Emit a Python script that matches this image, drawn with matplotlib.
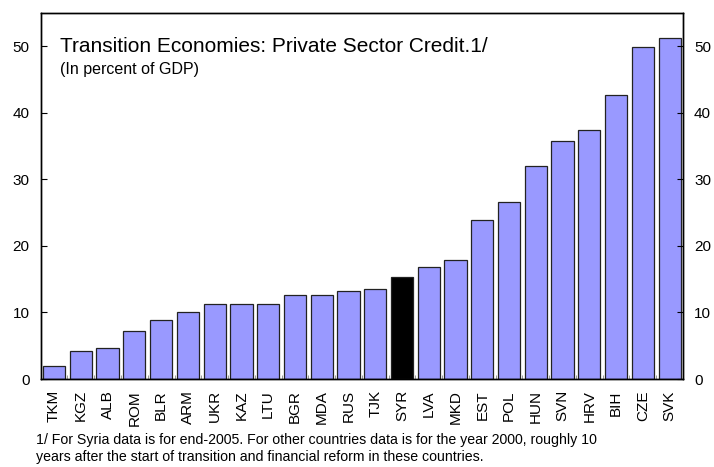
import matplotlib.pyplot as plt
import numpy as np

plt.rcParams['font.family'] = ['Liberation Sans', 'DejaVu Sans']

# Private sector credit, percent of GDP
countries = ['TKM', 'KGZ', 'ALB', 'ROM', 'BLR', 'ARM', 'UKR', 'KAZ', 'LTU', 'BGR',
             'MDA', 'RUS', 'TJK', 'SYR', 'LVA', 'MKD', 'EST', 'POL', 'HUN', 'SVN',
             'HRV', 'BIH', 'CZE', 'SVK']
credit = [2.0, 4.2, 4.6, 7.2, 8.9, 10.0, 11.2, 11.2, 11.3, 12.6,
          12.7, 13.3, 13.6, 15.3, 16.9, 17.9, 23.9, 26.6, 32.0, 35.8,
          37.5, 42.7, 49.9, 51.3]
highlight = 'SYR'

fig = plt.figure(figsize=(7.14, 4.67), dpi=100)
ax = fig.add_axes([0.057, 0.1884, 0.8996, 0.7836])

x = np.arange(len(countries))
colors = ['black' if c == highlight else '#9999ff' for c in countries]
ax.bar(x, credit, width=0.83, color=colors, edgecolor='#222222', linewidth=0.9, zorder=2)

ax.set_xlim(-0.5, len(countries) - 0.5)
ax.set_ylim(0, 55)
ax.set_yticks([0, 10, 20, 30, 40, 50])
ax.set_xticks(x)
ax.set_xticklabels(countries, rotation=90, fontsize=11)
ax.set_xticks(x[:-1] + 0.5, minor=True)
ax.tick_params(axis='x', which='major', length=0, pad=8)
ax.tick_params(axis='x', which='minor', direction='in', length=3, color='#888888')
ax.tick_params(axis='y', direction='in', length=4, labelsize=11, pad=8)

ax2 = ax.twinx()
ax2.set_ylim(ax.get_ylim())
ax2.set_yticks([0, 10, 20, 30, 40, 50])
ax2.tick_params(axis='y', direction='in', length=4, labelsize=11, pad=8)

for a in (ax, ax2):
    for s in a.spines.values():
        s.set_linewidth(1.0)

ax.text(0.03, 0.91, 'Transition Economies: Private Sector Credit.1/',
        transform=ax.transAxes, fontsize=15, va='center')
ax.text(0.03, 0.847, '(In percent of GDP)',
        transform=ax.transAxes, fontsize=11.5, va='center')

fig.text(0.05, 0.039, '1/ For Syria data is for end-2005. For other countries data is for the year 2000, roughly 10\n'
         'years after the start of transition and financial reform in these countries.',
         fontsize=10.2, va='center', linespacing=1.25)

fig.savefig('out.png', dpi=100)
